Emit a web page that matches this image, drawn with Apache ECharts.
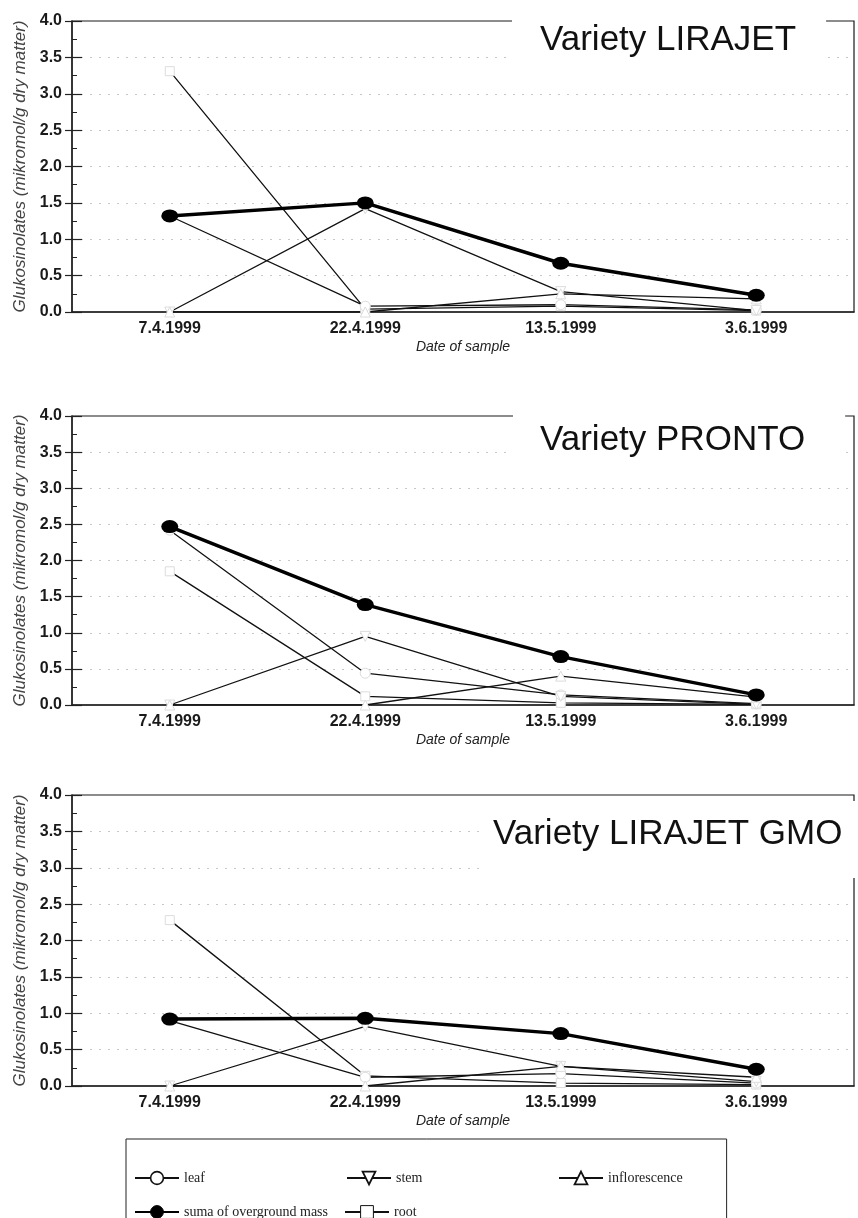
<!DOCTYPE html>
<html>
<head>
<meta charset="utf-8">
<script src="https://cdn.jsdelivr.net/npm/echarts@6/dist/echarts.min.js"></script>
<style>html,body{margin:0;padding:0;background:#fff}#c{width:858px;height:1218px}</style>
</head>
<body>
<div id="c"></div>
<script>
// ---- data ----
const categories = ['7.4.1999', '22.4.1999', '13.5.1999', '3.6.1999'];
const panelTitles = ['Variety LIRAJET', 'Variety PRONTO', 'Variety LIRAJET GMO'];
const seriesNames = ['leaf', 'stem', 'inflorescence', 'suma of overground mass', 'root'];

const lirajetLeaf  = [1.32, 0.08, 0.10, 0.03];
const lirajetStem  = [0.00, 1.42, 0.28, 0.02];
const lirajetInflo = [0.00, 0.00, 0.25, 0.18];
const lirajetSuma  = [1.32, 1.50, 0.67, 0.23];
const lirajetRoot  = [3.31, 0.04, 0.08, 0.02];

const prontoLeaf  = [2.42, 0.44, 0.14, 0.02];
const prontoStem  = [0.00, 0.95, 0.12, 0.01];
const prontoInflo = [0.00, 0.00, 0.40, 0.11];
const prontoSuma  = [2.47, 1.39, 0.67, 0.14];
const prontoRoot  = [1.85, 0.12, 0.03, 0.01];

const gmoLeaf  = [0.90, 0.12, 0.17, 0.04];
const gmoStem  = [0.00, 0.82, 0.27, 0.06];
const gmoInflo = [0.00, 0.00, 0.27, 0.12];
const gmoSuma  = [0.92, 0.93, 0.72, 0.23];
const gmoRoot  = [2.28, 0.14, 0.04, 0.02];

const panels = [
  [lirajetLeaf, lirajetStem, lirajetInflo, lirajetSuma, lirajetRoot],
  [prontoLeaf, prontoStem, prontoInflo, prontoSuma, prontoRoot],
  [gmoLeaf, gmoStem, gmoInflo, gmoSuma, gmoRoot]
];

// ---- layout / style ----
const SANS = 'Liberation Sans, Arial, sans-serif';
const SERIF = 'Liberation Serif, Times New Roman, serif';
const grids = [
  {left: 72, top: 21, width: 782, height: 291},
  {left: 72, top: 416, width: 782, height: 289},
  {left: 72, top: 795, width: 782, height: 291}
];
const titleBoxes = [
  {left: 512, top: 15, padding: [8, 30, 8, 28]},
  {left: 513, top: 415, padding: [8, 40, 8, 27]},
  {left: 480, top: 801, padding: [16, 16, 26, 13]}
];
const ellipse = 'path://M0,1A1,1,0,1,0,2,1A1,1,0,1,0,0,1Z';
const symbolDefs = [
  {symbol: 'circle', size: 10, rotate: 0},
  {symbol: 'triangle', size: 10, rotate: 180},
  {symbol: 'triangle', size: 10, rotate: 0},
  {symbol: ellipse, size: [17, 13], rotate: 0},
  {symbol: 'rect', size: 9, rotate: 0}
];
// split lines at 0.5 steps: hide the ones lying on the axis (0.0) and on the frame (4.0)
const gridLineColors = ['rgba(0,0,0,0)', '#c8c8c8', '#c8c8c8', '#c8c8c8', '#c8c8c8',
                        '#c8c8c8', '#c8c8c8', '#c8c8c8', 'rgba(0,0,0,0)'];

const option = {
  backgroundColor: '#fff',
  animation: false,
  title: [], grid: [], xAxis: [], yAxis: [], series: [],
  legend: {
    left: 126, top: 1139, width: 600,
    padding: [30, 44, 40, 8],
    borderColor: '#222', borderWidth: 1,
    itemWidth: 44, itemHeight: 16, itemGap: 16,
    selectedMode: false,
    textStyle: {fontFamily: SERIF, fontSize: 14, color: '#222', lineHeight: 18},
    data: [
      {name: 'leaf', itemStyle: {color: '#fff', borderColor: '#111', borderWidth: 1.6}, textStyle: {width: 146}},
      {name: 'stem', itemStyle: {color: '#fff', borderColor: '#111', borderWidth: 1.8}, textStyle: {width: 146}},
      {name: 'inflorescence', itemStyle: {color: '#fff', borderColor: '#111', borderWidth: 1.8}},
      {name: 'suma of overground mass', itemStyle: {color: '#000', borderColor: '#000', borderWidth: 1}},
      {name: 'root', itemStyle: {color: '#fff', borderColor: '#111', borderWidth: 1}}
    ]
  }
};

panels.forEach((vals, p) => {
  option.grid.push(Object.assign({show: true, borderColor: '#1a1a1a', borderWidth: 1.2, containLabel: false}, grids[p]));
  option.title.push(Object.assign({
    text: panelTitles[p], z: 10, backgroundColor: '#fff',
    textStyle: {fontFamily: SANS, fontSize: 35, fontWeight: 'normal', color: '#111'}
  }, titleBoxes[p]));
  option.xAxis.push({
    type: 'category', gridIndex: p, data: categories, boundaryGap: true,
    name: 'Date of sample', nameLocation: 'middle', nameGap: 28,
    nameTextStyle: {fontFamily: SANS, fontSize: 14, fontStyle: 'italic', color: '#222'},
    axisLine: {lineStyle: {color: '#222', width: 1.5}},
    axisTick: {alignWithLabel: true, inside: true, length: 4, lineStyle: {color: '#222'}},
    axisLabel: {margin: 9, fontFamily: SANS, fontSize: 16, fontWeight: 'bold', color: '#1a1a1a'},
    splitLine: {show: false}
  });
  option.yAxis.push({
    type: 'value', gridIndex: p, min: 0, max: 4, interval: 0.5,
    name: 'Glukosinolates (mikromol/g dry matter)', nameLocation: 'middle', nameGap: 42, nameRotate: 90,
    nameTextStyle: {fontFamily: SANS, fontSize: 17, fontStyle: 'italic', color: '#444'},
    axisLine: {show: true, lineStyle: {color: '#222', width: 1.5}},
    axisTick: {show: true, length: 7, lineStyle: {color: '#222', width: 1.2}},
    axisLabel: {margin: 10, fontFamily: SANS, fontSize: 16, fontWeight: 'bold', color: '#1a1a1a',
      formatter: v => v.toFixed(1)},
    splitLine: {show: true, lineStyle: {color: gridLineColors, type: [2, 7], width: 1}}
  });
  option.yAxis.push({
    type: 'value', gridIndex: p, min: 0, max: 4, interval: 0.5, position: 'left',
    axisLine: {show: false},
    axisTick: {show: true, inside: true, length: 10, lineStyle: {color: '#222', width: 1.2}},
    minorTick: {show: true, splitNumber: 2, length: 5, lineStyle: {color: '#222', width: 1}},
    axisLabel: {show: false}, splitLine: {show: false}
  });
  const order = [4, 0, 1, 2, 3];
  order.forEach(k => {
    const isSuma = k === 3;
    option.series.push({
      type: 'line', name: seriesNames[k], xAxisIndex: p, yAxisIndex: p * 2,
      data: vals[k],
      symbol: symbolDefs[k].symbol, symbolSize: symbolDefs[k].size, symbolRotate: symbolDefs[k].rotate,
      showSymbol: true,
      lineStyle: {color: isSuma ? '#000' : '#111', width: isSuma ? 3.5 : 1.3},
      itemStyle: isSuma ? {color: '#000', borderColor: '#000', borderWidth: 0}
                        : {color: '#fff', borderColor: '#dcdcdc', borderWidth: 1},
      z: isSuma ? 5 : 3,
      emphasis: {disabled: true}
    });
  });
});

const chart = echarts.init(document.getElementById('c'), null, {renderer: 'canvas'});
chart.setOption(option);
</script>
</body>
</html>
